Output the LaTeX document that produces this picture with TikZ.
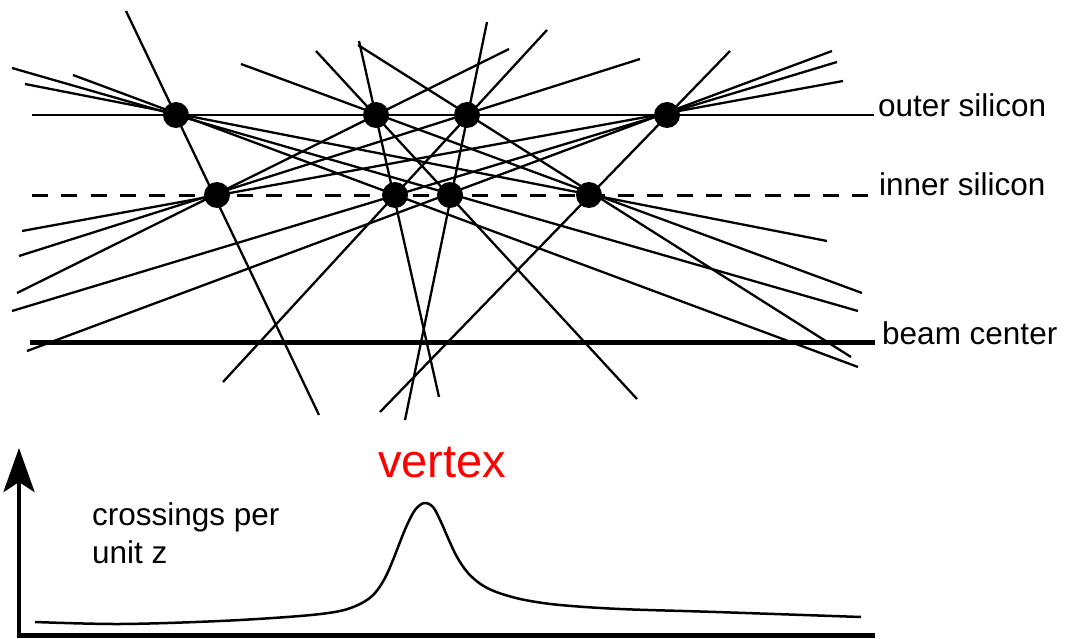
\documentclass[tikz,border=0pt]{standalone}
\usepackage{fontspec}
\setmainfont{Liberation Sans}
\usetikzlibrary{arrows.meta}
\begin{document}
\begin{tikzpicture}[x=1pt,y=-1pt,
  track/.style={line width=2.3pt, line cap=butt},
  layer/.style={line width=2.5pt},
  dot/.style={circle, fill=black, inner sep=0pt, minimum size=26pt},
  lbl/.style={anchor=base west, inner sep=0pt, font=\fontsize{31.5}{38}\selectfont},
  axisline/.style={line width=4.7pt, line join=miter}]
\useasboundingbox (0,0) rectangle (1065,639);

% dots (hits)
\coordinate (o1) at (176,115);
\coordinate (o2) at (376,115);
\coordinate (o3) at (467,115);
\coordinate (o4) at (667,115);
\coordinate (i1) at (217,195);
\coordinate (i2) at (395,195);
\coordinate (i3) at (450,195);
\coordinate (i4) at (589,195);

% track end points
\coordinate (a1) at (126,11);  \coordinate (b1) at (319,415);
\coordinate (a2) at (73,75);   \coordinate (b2) at (858,367);
\coordinate (a3) at (12,68);   \coordinate (b3) at (858,311);
\coordinate (a4) at (25,84);   \coordinate (b4) at (827,241);
\coordinate (a5) at (509,49);  \coordinate (b5) at (17,293);
\coordinate (a6) at (359,41);  \coordinate (b6) at (439,397);
\coordinate (a7) at (316,51);  \coordinate (b7) at (637,399);
\coordinate (a8) at (241,64);  \coordinate (b8) at (862,293);
\coordinate (a9) at (640,59);  \coordinate (b9) at (19,256);
\coordinate (a10) at (547,30); \coordinate (b10) at (223,382);
\coordinate (a11) at (487,22); \coordinate (b11) at (405,420);
\coordinate (a12) at (358,45); \coordinate (b12) at (851,357);
\coordinate (a13) at (843,81); \coordinate (b13) at (22,231);
\coordinate (a14) at (837,62); \coordinate (b14) at (12,311);
\coordinate (a15) at (832,51); \coordinate (b15) at (27,351);
\coordinate (a16) at (730,51); \coordinate (b16) at (380,412);

\foreach \k in {1,...,16} {\draw[track] (a\k) -- (b\k);}

% detector layers and beam
\coordinate (os) at (32,115);  \coordinate (oe) at (874,115);
\coordinate (is) at (32,196);  \coordinate (ie) at (868,196);
\coordinate (bs) at (30,342);  \coordinate (be) at (875,342);
\draw[layer] (os) -- (oe);
\draw[line width=3pt, dash pattern=on 16pt off 13.3pt] (is) -- (ie);
\draw[line width=5pt] (bs) -- (be);

\foreach \n in {o1,o2,o3,o4,i1,i2,i3,i4} {\node[dot] (d\n) at (\n) {};}

\node[lbl] (louter) at (878,117) {outer silicon};
\node[lbl] (linner) at (879,196) {inner silicon};
\node[lbl] (lbeam) at (882,344) {beam center};

% lower plot
\coordinate (xend) at (875,635.5);
\coordinate (corner) at (19,635.5);
\coordinate (ytip) at (19,448);
\draw[axisline, -{Stealth[length=44pt, width=31pt, inset=10pt]}] (xend) -- (corner) -- (ytip);

\node[lbl] (lcross) at (92,525) {crossings per};
\node[lbl] (lunit) at (92,563) {unit z};
\node[anchor=base west, inner sep=0pt, text={rgb,255:red,255;green,0;blue,0},
      font=\fontsize{47}{56}\selectfont] (lvertex) at (378,477) {vertex};

\draw[line width=2.5pt, line join=round] plot[smooth, tension=0.55] coordinates {
 (35,622) (120,624) (220,621) (300,616) (340,611) (362,603) (375,593)
 (385,578) (393,560) (400,542) (407,525) (415,510) (424,503) (433,507)
 (441,522) (448,538) (457,557) (468,573) (482,585) (499,593) (525,600)
 (560,605) (620,609) (716,612) (861,617)};
\end{tikzpicture}
\end{document}
